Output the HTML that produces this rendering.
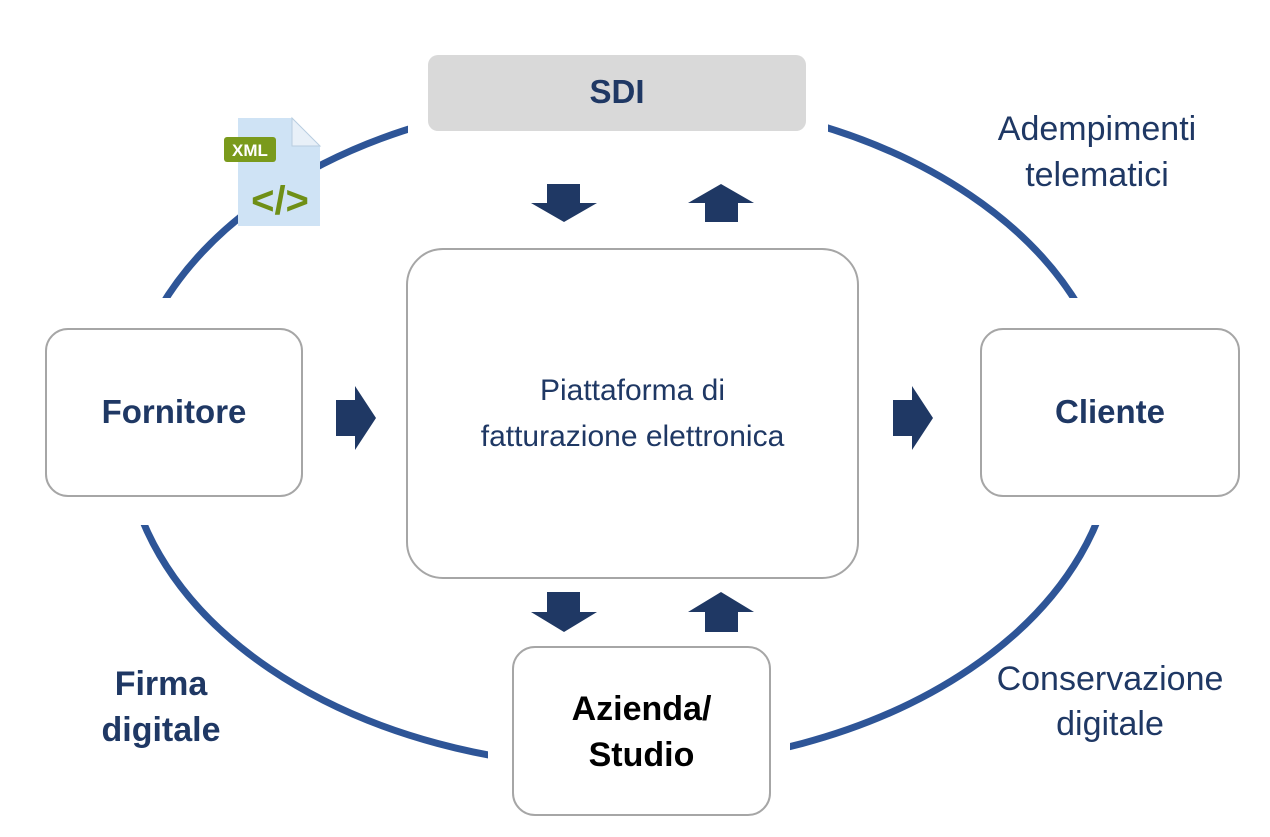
<!DOCTYPE html>
<html><head><style>
body{margin:0;width:1270px;height:837px;background:#fff;position:relative;overflow:hidden;font-family:"Liberation Sans",sans-serif}
.t{position:absolute;text-align:center;color:#1f3864}
</style></head><body>
<svg width="1270" height="837" style="position:absolute;left:0;top:0">
<ellipse cx="620" cy="432" rx="495" ry="335" fill="none" stroke="#2e5597" stroke-width="7"/>
<rect x="408" y="70" width="420" height="70" fill="#fff"/>
<rect x="90" y="298" width="220" height="227" fill="#fff"/>
<rect x="965" y="298" width="190" height="227" fill="#fff"/>
<rect x="488" y="690" width="302" height="130" fill="#fff"/>
<rect x="428" y="55" width="378" height="76" rx="10" fill="#d9d9d9"/>
<rect x="46" y="329" width="256" height="167" rx="22" fill="#fff" stroke="#a6a6a6" stroke-width="2"/>
<rect x="981" y="329" width="258" height="167" rx="22" fill="#fff" stroke="#a6a6a6" stroke-width="2"/>
<rect x="407" y="249" width="451" height="329" rx="36" fill="#fff" stroke="#a6a6a6" stroke-width="2"/>
<rect x="513" y="647" width="257" height="168" rx="22" fill="#fff" stroke="#a6a6a6" stroke-width="2"/>
<g fill="#1f3864">
<polygon points="547,184 580,184 580,203 597,203 564,222 531,203 547,203"/>
<polygon points="721,184 754,203 738,203 738,222 705,222 705,203 688,203"/>
<polygon points="547,592 580,592 580,612 597,612 564,632 531,612 547,612"/>
<polygon points="721,592 754,612 738,612 738,632 705,632 705,612 688,612"/>
<polygon points="336,400 355,400 355,386 376,418 355,450 355,436 336,436"/>
<polygon points="893,400 912,400 912,386 933,418 912,450 912,436 893,436"/>
</g>
<polygon points="238,118 292,118 320,146 320,226 238,226" fill="#cfe3f5"/>
<polygon points="292,118 320,146 292,146" fill="#e8f0f8" stroke="#b8cde0"/>
<rect x="224" y="137" width="52" height="25" rx="3" fill="#7a9a1c"/>
<text x="250" y="156" font-size="17" font-weight="bold" fill="#fff" text-anchor="middle" font-family="Liberation Sans">XML</text>
<text x="280" y="214" font-size="40" font-weight="bold" fill="#6f8f16" text-anchor="middle" font-family="Liberation Sans">&lt;/&gt;</text>
</svg>
<div class="t" style="left:428px;top:73px;width:378px;font-size:33px;font-weight:bold">SDI</div>
<div class="t" style="left:46px;top:393px;width:256px;font-size:33px;font-weight:bold">Fornitore</div>
<div class="t" style="left:981px;top:393px;width:258px;font-size:33px;font-weight:bold">Cliente</div>
<div class="t" style="left:513px;top:686px;width:257px;font-size:34px;font-weight:bold;color:#000;line-height:46px">Azienda/<br>Studio</div>
<div class="t" style="left:407px;top:368px;width:451px;font-size:30px;line-height:46px">Piattaforma di<br>fatturazione elettronica</div>
<div class="t" style="left:960px;top:106px;width:274px;font-size:34px;line-height:46px">Adempimenti<br>telematici</div>
<div class="t" style="left:960px;top:657px;width:300px;font-size:34px;line-height:45px">Conservazione<br>digitale</div>
<div class="t" style="left:60px;top:661px;width:202px;font-size:34px;font-weight:bold;line-height:46px">Firma<br>digitale</div>
</body></html>
